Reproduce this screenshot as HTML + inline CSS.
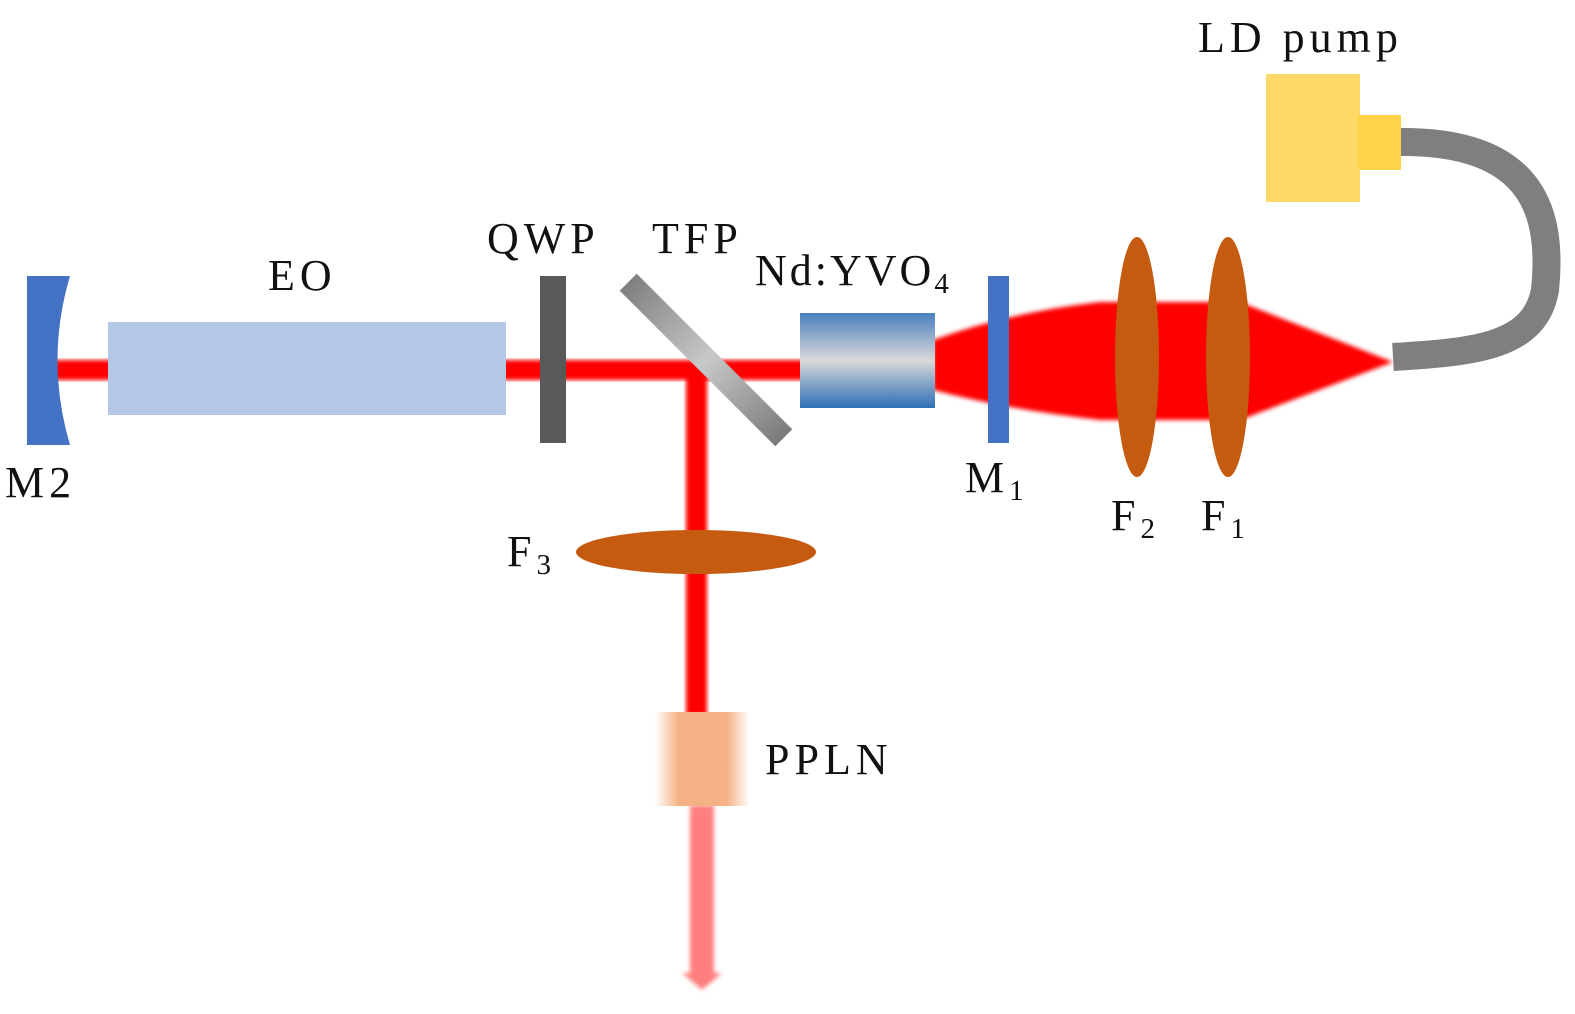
<!DOCTYPE html>
<html><head><meta charset="utf-8"><style>
html,body{margin:0;padding:0;background:#fff;}
svg{display:block;}
text{font-family:"Liberation Serif",serif;font-size:44px;fill:#111;letter-spacing:5px;}
.s{font-size:29px;letter-spacing:0;}
</style></head><body>
<svg width="1575" height="1014" viewBox="0 0 1575 1014" xmlns="http://www.w3.org/2000/svg">
<defs>
<filter id="bl" x="-10%" y="-10%" width="120%" height="120%"><feGaussianBlur stdDeviation="2"/></filter>
<linearGradient id="yvo" x1="0" y1="0" x2="0" y2="1">
<stop offset="0" stop-color="#4a7fbf"/><stop offset="0.5" stop-color="#d9d9d9"/><stop offset="1" stop-color="#2e6fb5"/>
</linearGradient>
<linearGradient id="tfp" x1="0" y1="0" x2="1" y2="0">
<stop offset="0" stop-color="#7f7f7f"/><stop offset="0.5" stop-color="#c8c8c8"/><stop offset="1" stop-color="#7a7a7a"/>
</linearGradient>
<linearGradient id="ppln" x1="0" y1="0" x2="1" y2="0">
<stop offset="0" stop-color="#f4b183" stop-opacity="0"/><stop offset="0.25" stop-color="#f4b183"/><stop offset="0.75" stop-color="#f4b183"/><stop offset="1" stop-color="#f4b183" stop-opacity="0"/>
</linearGradient>
</defs>
<rect x="48" y="360" width="760" height="20" fill="#ff0000" filter="url(#bl)"/>
<rect x="686" y="370" width="21" height="345" fill="#ff0000" filter="url(#bl)"/>
<path d="M933,340 Q1010,312 1100,302 L1240,302 L1393,362 L1240,420 L1100,420 Q1010,410 933,390 Z" fill="#ff0000" filter="url(#bl)"/>
<g filter="url(#bl)" fill="#ff7f7f">
<rect x="690" y="805" width="24" height="170"/>
<polygon points="682,973 722,973 702,990"/>
</g>
<path d="M27,276 L70,276 Q45,360 70,445 L27,445 Z" fill="#4472c4"/>
<rect x="108" y="322" width="398" height="93" fill="#b4c7e7"/>
<rect x="540" y="276" width="26" height="167" fill="#595959"/>
<g transform="translate(706,360) rotate(45)">
<rect x="-110" y="-12" width="220" height="24" fill="url(#tfp)"/>
</g>
<rect x="800" y="313" width="135" height="95" fill="url(#yvo)"/>
<rect x="988" y="276" width="21" height="167" fill="#4472c4"/>
<ellipse cx="1137" cy="357" rx="22" ry="120" fill="#c55a11"/>
<ellipse cx="1228" cy="357" rx="22" ry="120" fill="#c55a11"/>
<ellipse cx="696" cy="552" rx="120" ry="22" fill="#c55a11"/>
<rect x="655" y="712" width="95" height="94" fill="url(#ppln)"/>
<path d="M1393,357 C1480,352 1535,345 1545,290 C1552,220 1540,140 1398,142" fill="none" stroke="#7f7f7f" stroke-width="28"/>
<rect x="1266" y="74" width="94" height="128" fill="#ffd966"/>
<rect x="1358" y="115" width="43" height="55" fill="#ffd347"/>
<text x="1198" y="52">LD pump</text>
<text x="268" y="290">EO</text>
<text x="487" y="253">QWP</text>
<text x="652" y="253">TFP</text>
<text x="755" y="285" style="letter-spacing:3px">Nd:YVO<tspan class="s" dy="8">4</tspan></text>
<text x="5" y="497">M2</text>
<text x="965" y="492">M<tspan class="s" dy="8">1</tspan></text>
<text x="1111" y="530">F<tspan class="s" dy="8">2</tspan></text>
<text x="1201" y="530">F<tspan class="s" dy="8">1</tspan></text>
<text x="507" y="566">F<tspan class="s" dy="8">3</tspan></text>
<text x="765" y="774">PPLN</text>
</svg>
</body></html>
